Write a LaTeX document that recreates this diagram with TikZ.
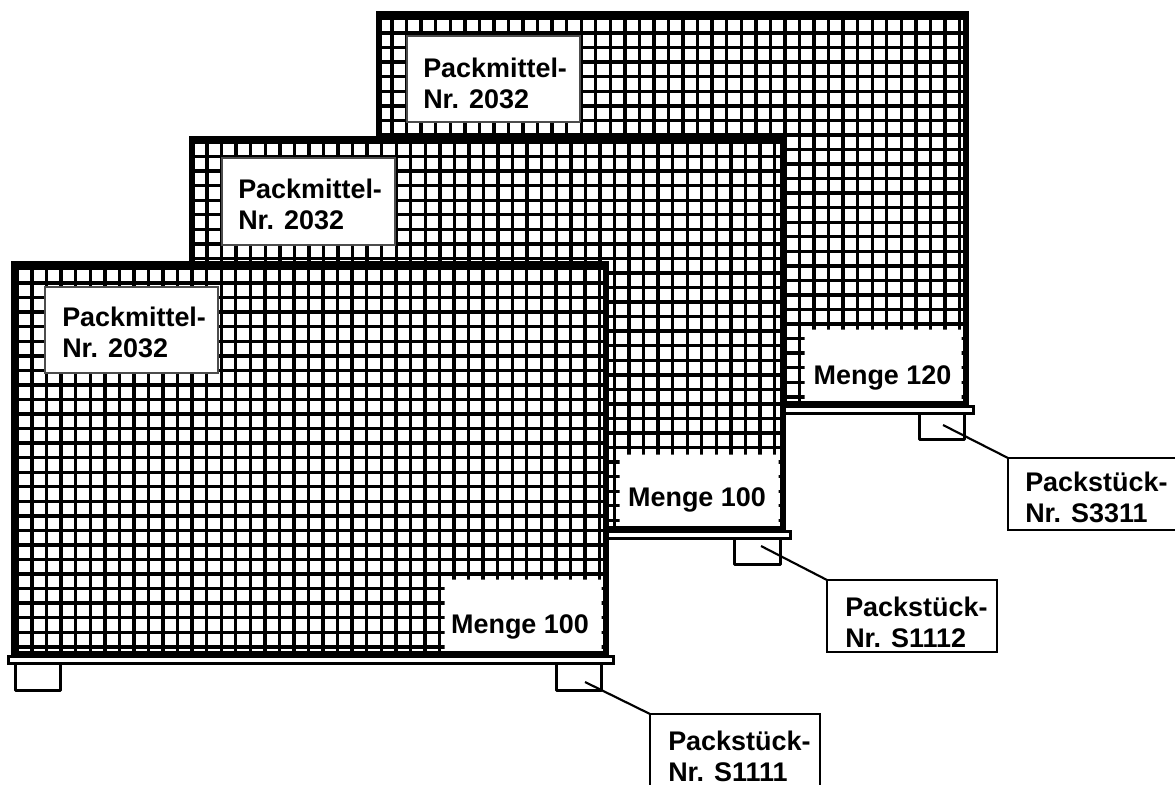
\documentclass[tikz,border=0pt]{standalone}
\usepackage{fontspec}
\setmainfont{Liberation Sans}
\newcommand\mymesh[6]{%
  \foreach \k in {0,...,40}{\pgfmathsetmacro\xx{#1+14.55*\k}\draw[gridl] (\xx,#5) -- (\xx,#6);}%
  \foreach \k in {0,...,26}{\pgfmathsetmacro\yy{#2+14.55*\k}\draw[gridl] (#3,\yy) -- (#4,\yy);}%
}
\begin{document}
\begin{tikzpicture}[x=0.75pt,y=-0.75pt,
  gridl/.style={line width=2.55pt, black},
  frame/.style={line width=3.9pt, line join=miter},
  bar/.style={line width=2.6pt, fill=white},
  foot/.style={line width=2.6pt, line join=round},
  leader/.style={line width=1.6pt},
  pmbox/.style={draw=black!70, line width=0.8pt, fill=white},
  psbox/.style={draw, line width=1.5pt, fill=white, minimum width=127.5pt, minimum height=54pt, anchor=north west, outer sep=0pt, inner sep=0pt},
  lbl/.style={font=\bfseries\fontsize{20.2}{23.25}\selectfont, inner sep=0pt, align=left, anchor=west},
  qty/.style={font=\bfseries\fontsize{20.2}{23.25}\selectfont, inner sep=0pt, anchor=base},
]
\useasboundingbox (0,0) rectangle (1175,785);
\clip (0,0) rectangle (1175,785);

% ---------- back box ----------
\fill[white] (377,12) rectangle (968,404);
\begin{scope}\clip (377,12) rectangle (968,404); \mymesh{377.5}{18.5}{377}{968}{12}{404}\end{scope}
\fill[white] (802,327) rectangle (966,404);
\begin{scope}\clip (802,327) rectangle (804.5,404) (802,327) rectangle (966,329.5) (961.5,327) rectangle (964,404);
  \mymesh{377.5}{18.5}{377}{968}{12}{404}\end{scope}
\node[qty] (m3) at (882.5,384.5) {Menge 120};
\draw[pmbox] (407,36) rectangle (580,122);
\node[lbl] (p3) at (423,83) {Packmittel-\\Nr. 2032};
\draw[frame] (379,14) rectangle (966,404);
\draw[bar] (373.5,406.5) rectangle (973.5,413.5);
\draw[foot] (380.5,415) -- (380.5,439.5) -- (425.5,439.5) -- (425.5,415);
\draw[foot] (919.5,415) -- (919.5,439.5) -- (964.5,439.5) -- (964.5,415);
\coordinate (c3) at (943,425);

% ---------- middle box ----------
\fill[white] (190,137) rectangle (785,529);
\begin{scope}\clip (190,137) rectangle (785,529); \mymesh{192.5}{142}{190}{785}{137}{529}\end{scope}
\fill[white] (617,452) rectangle (783,529);
\begin{scope}\clip (617,452) rectangle (619.5,529) (617,452) rectangle (783,454.5) (778.5,452) rectangle (781,529);
  \mymesh{192.5}{142}{190}{785}{137}{529}\end{scope}
\node[qty] (m2) at (697,506.5) {Menge 100};
\draw[pmbox] (222,158) rectangle (395,245);
\node[lbl] (p2) at (238,204) {Packmittel-\\Nr. 2032};
\draw[frame] (192,139) rectangle (783,529);
\draw[bar] (186.5,531.5) rectangle (790.5,538.5);
\draw[foot] (193.5,540) -- (193.5,564.5) -- (238.5,564.5) -- (238.5,540);
\draw[foot] (734.5,540) -- (734.5,564.5) -- (780.5,564.5) -- (780.5,540);
\coordinate (c2) at (761,546);

% ---------- front box ----------
\fill[white] (12,262) rectangle (608,654);
\begin{scope}\clip (12,262) rectangle (608,654); \mymesh{17.5}{268.5}{12}{608}{262}{654}\end{scope}
\fill[white] (442,577) rectangle (606,654);
\begin{scope}\clip (442,577) rectangle (444.5,654) (442,577) rectangle (606,579.5) (601.5,577) rectangle (604,654);
  \mymesh{17.5}{268.5}{12}{608}{262}{654}\end{scope}
\node[qty] (m1) at (520,633.5) {Menge 100};
\draw[pmbox] (45,287) rectangle (218,373);
\node[lbl] (p1) at (62,332.5) {Packmittel-\\Nr. 2032};
\draw[frame] (14,264) rectangle (606,654);
\draw[bar] (8.5,656.5) rectangle (613.5,663.5);
\draw[foot] (15.5,665) -- (15.5,690.5) -- (60.5,690.5) -- (60.5,665);
\draw[foot] (556.5,665) -- (556.5,690.5) -- (601.5,690.5) -- (601.5,665);
\coordinate (c1) at (585,682);

% ---------- Packstueck labels ----------
\node[psbox] (ps1) at (650,714) {};
\node[lbl] (t1) at (668,756) {Packstück-\\Nr. S1111};
\node[psbox] (ps2) at (827,580) {};
\node[lbl] (t2) at (845,622) {Packstück-\\Nr. S1112};
\node[psbox] (ps3) at (1008,458) {};
\node[lbl] (t3) at (1025,497.5) {Packstück-\\Nr. S3311};
\draw[leader] (c1) -- (ps1.north west);
\draw[leader] (c2) -- (ps2.north west);
\draw[leader] (c3) -- (ps3.north west);
\end{tikzpicture}
\end{document}
